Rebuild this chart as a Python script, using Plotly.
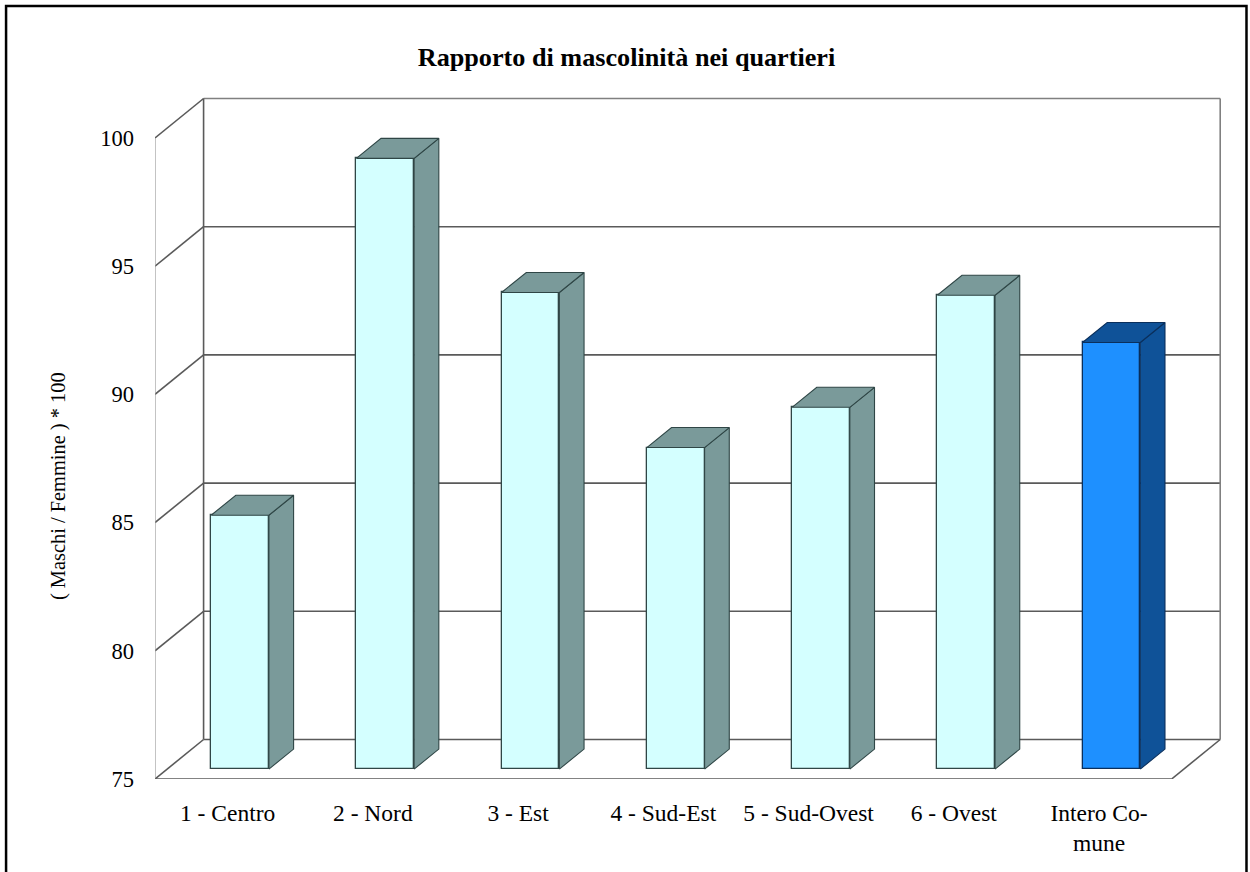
import plotly.graph_objects as go

# Data
categories = ["1 - Centro", "2 - Nord", "3 - Est", "4 - Sud-Est", "5 - Sud-Ovest", "6 - Ovest", "Intero Co-<br>mune"]
values = [84.9, 98.82, 93.59, 87.54, 89.11, 93.48, 91.64]
y_ticks = [75, 80, 85, 90, 95, 100]
front_colors = ["#D4FFFF"] * 6 + ["#1E90FF"]
side_colors = ["#7A9A9A"] * 6 + ["#0F5298"]
edge_colors = ["#2F4646"] * 6 + ["#0A2F5C"]

# Pseudo-3D geometry, in axis units
W, H = 1250, 872
L, R, T, B = 155, 27.5, 96, 93
X_UNIT = 145.3          # px per category
Y_UNIT = 25.64          # px per value unit
DX = 48.6 / X_UNIT      # chart depth
DY = 39.5 / Y_UNIT
BAR_W = 57.8 / X_UNIT
BAR_DX = 24.7 / X_UNIT  # depth of one bar
BAR_DY = 20.0 / Y_UNIT
x0, x1 = -0.5, 6.5
y0, y1 = 75, 100
xmax = x0 + (W - L - R) / X_UNIT
ymax = y0 + (H - T - B) / Y_UNIT

GRID = "#5A5A5A"
shapes = []


def seg(xa, ya, xb, yb, color=GRID, width=1.6):
    shapes.append(dict(type="line", xref="x", yref="y", x0=xa, y0=ya, x1=xb, y1=yb,
                       line=dict(color=color, width=width), layer="below"))


# back wall and grid
for t in y_ticks:
    seg(x0 + DX, t + DY, x1 + DX, t + DY, color="#808080" if t == y_ticks[-1] else GRID)
    seg(x0, t, x0 + DX, t + DY)
seg(x0 + DX, y0 + DY, x0 + DX, y1 + DY)
seg(x1 + DX, y0 + DY, x1 + DX, y1 + DY, color="#808080")
# side wall front edge, floor
seg(x0, y0, x0, y1, color="#9A9A9A", width=1.2)
seg(x0, y0, x1, y0)
seg(x1, y0, x1 + DX, y0 + DY)
# outer frame of the page
shapes.append(dict(type="rect", xref="paper", yref="paper",
                   x0=(6 - L) / (W - L - R), x1=(1247 - L) / (W - L - R),
                   y0=-0.5, y1=(H - 6 - B) / (H - T - B),
                   line=dict(color="black", width=2.5), layer="above"))

fig = go.Figure()

xs = [i + 12.4 / X_UNIT for i in range(len(values))]
base = y0 + 9.9 / Y_UNIT
fig.add_trace(go.Bar(
    x=xs, y=[v - y0 for v in values], base=base, width=BAR_W,
    marker=dict(color=front_colors, line=dict(color=edge_colors, width=1.3)),
    hoverinfo="skip", showlegend=False))

for x, v, sc, ec in zip(xs, values, side_colors, edge_colors):
    xr = x + BAR_W / 2
    xl = x - BAR_W / 2
    top = v + 9.9 / Y_UNIT
    # side face
    fig.add_trace(go.Scatter(
        x=[xr, xr + BAR_DX, xr + BAR_DX, xr, xr],
        y=[base, base + BAR_DY, top + BAR_DY, top, base],
        mode="lines", fill="toself", fillcolor=sc, line=dict(color=ec, width=1.1),
        hoverinfo="skip", showlegend=False))
    # top face
    fig.add_trace(go.Scatter(
        x=[xl, xl + BAR_DX, xr + BAR_DX, xr, xl],
        y=[top, top + BAR_DY, top + BAR_DY, top, top],
        mode="lines", fill="toself", fillcolor=sc, line=dict(color=ec, width=1.1),
        hoverinfo="skip", showlegend=False))

FONT = "Liberation Serif"
fig.update_layout(
    width=W, height=H, autosize=False,
    margin=dict(l=L, r=R, t=T, b=B, pad=0),
    paper_bgcolor="white", plot_bgcolor="white",
    font=dict(family=FONT, color="black", size=22),
    showlegend=False, shapes=shapes, bargap=0,
    title=dict(text="<b>Rapporto di mascolinità nei quartieri</b>",
               x=626.5 / W, xanchor="center", xref="container",
               y=1 - 57 / H, yanchor="middle", yref="container",
               font=dict(family=FONT, size=26.2, color="black")),
    xaxis=dict(range=[x0, xmax], tickmode="array", tickvals=list(range(len(categories))),
               ticktext=categories, showgrid=False, zeroline=False, showline=False,
               ticks="", ticklabelstandoff=17, tickangle=0,
               tickfont=dict(family=FONT, size=23.5, color="black")),
    yaxis=dict(range=[y0, ymax], tickmode="array", tickvals=y_ticks,
               showgrid=False, zeroline=False, showline=False,
               ticks="", ticklabelstandoff=20,
               tickfont=dict(family=FONT, size=22.5, color="black")),
    annotations=[dict(text="( Maschi / Femmine ) * 100", textangle=-90,
                      xref="paper", yref="paper", showarrow=False,
                      x=(58.5 - L) / (W - L - R), y=(H - B - 486.5) / (H - T - B),
                      xanchor="center", yanchor="middle",
                      font=dict(family=FONT, size=20.4, color="black"))],
)

fig.write_html("out.html", config=dict(displayModeBar=False),
               post_script="document.body.style.margin='0';document.documentElement.style.overflow='hidden';")
